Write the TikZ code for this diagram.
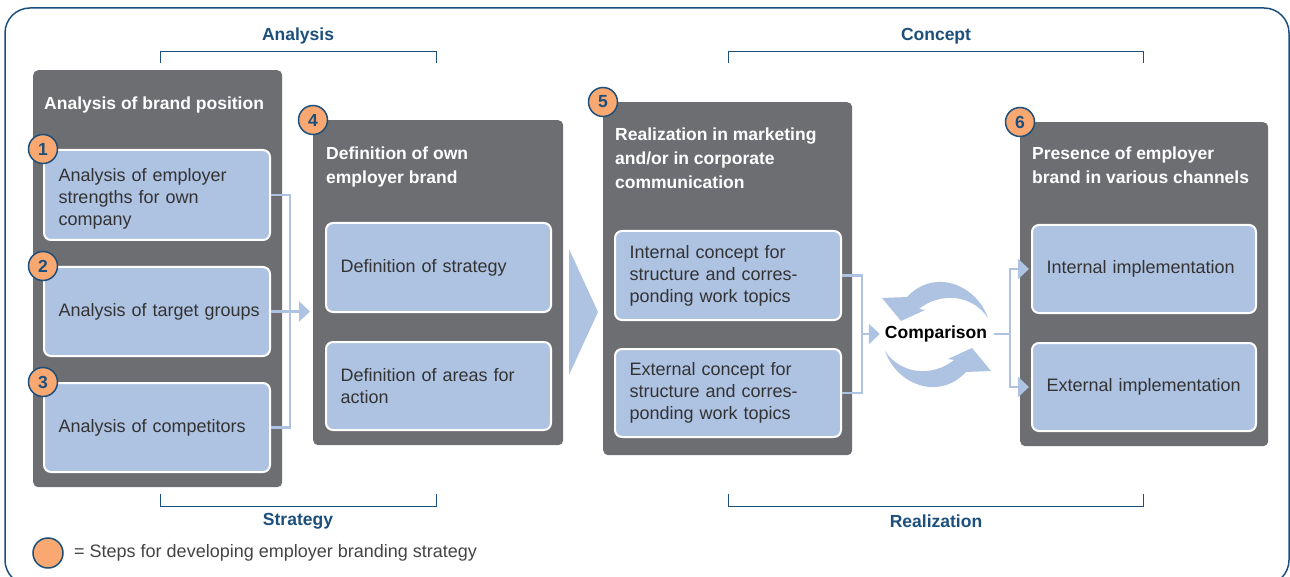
\documentclass[tikz,border=0pt]{standalone}
\usepackage{fontspec}
\setmainfont{Liberation Sans}
\usetikzlibrary{arrows.meta}

\definecolor{boxgray}{RGB}{109,110,114}
\definecolor{paleblue}{RGB}{174,194,226}
\definecolor{badgeorange}{RGB}{248,168,112}
\definecolor{navy}{RGB}{28,79,124}
\definecolor{bodytext}{RGB}{51,51,51}
\definecolor{legendtext}{RGB}{68,68,68}

\tikzset{
  panel/.style={fill=boxgray, rounded corners=5pt, anchor=north west, inner sep=0pt},
  paneltitle/.style={anchor=north west, inner sep=0pt, align=left, text=white,
    font=\bfseries\fontsize{17.5}{24}\selectfont},
  card/.style={draw=white, line width=2pt, fill=paleblue, rounded corners=7pt,
    inner xsep=14.5pt, inner ysep=0pt, align=left, text=bodytext,
    font=\fontsize{18}{22}\selectfont},
  badge/.style={circle, draw=navy, line width=1.5pt, fill=badgeorange,
    minimum size=29pt, inner sep=0pt, text=navy, font=\bfseries\fontsize{17.5}{17.5}\selectfont},
  link/.style={draw=paleblue, line width=2.5pt},
  linkarrow/.style={link, -{Triangle[length=11pt, width=20pt]}},
  bracket/.style={draw=navy, line width=1.5pt},
  phase/.style={text=navy, font=\bfseries\fontsize{17.5}{20}\selectfont, inner sep=0pt},
  cyclearrow/.style={fill=paleblue},
}

\begin{document}
\begin{tikzpicture}[x=1pt, y=-1pt]
  \useasboundingbox (0,0) rectangle (1290,577);
  \clip (0,0) rectangle (1290,577);

  % outer frame
  \draw[navy, line width=1.5pt, rounded corners=25pt] (5,8) rectangle (1289,585);

  % phase brackets
  \draw[bracket] (160.5,63) -- (160.5,51.5) -- (436.5,51.5) -- (436.5,63);
  \node[phase] (lanalysis) at (298,36) {Analysis};
  \draw[bracket] (728.5,63) -- (728.5,51.5) -- (1143.5,51.5) -- (1143.5,63);
  \node[phase] (lconcept) at (936,36) {Concept};
  \draw[bracket] (160.5,494) -- (160.5,506.5) -- (436.5,506.5) -- (436.5,494);
  \node[phase] (lstrategy) at (298,521) {Strategy};
  \draw[bracket] (728.5,494) -- (728.5,506.5) -- (1143.5,506.5) -- (1143.5,494);
  \node[phase] (lrealization) at (936,521) {Realization};

  % dark panels
  \node[panel, minimum width=249pt, minimum height=417pt] (pA) at (33,70) {};
  \node[panel, minimum width=250pt, minimum height=325pt] (pB) at (313,120) {};
  \node[panel, minimum width=249pt, minimum height=353pt] (pC) at (603,102) {};
  \node[panel, minimum width=248pt, minimum height=324pt] (pD) at (1020,122) {};

  % panel titles
  \node[paneltitle] (tA) at (44,97) {Analysis of brand position};
  \node[paneltitle] (tB) at (326,147) {Definition of own\\employer brand};
  \node[paneltitle] (tC) at (615,127.5) {Realization in marketing\\and/or in corporate\\communication};
  \node[paneltitle] (tD) at (1032,147) {Presence of employer\\brand in various channels};

  % cards
  \node[card, text width=197pt, minimum height=90pt] (a1) at (157,195)
    {\rule{0pt}{21pt}Analysis of employer\\strengths for own\\company};
  \node[card, text width=197pt, minimum height=89pt] (a2) at (157,311.5)
    {\mbox{Analysis of target groups}};
  \node[card, text width=197pt, minimum height=89pt] (a3) at (157,427.5)
    {Analysis of competitors};
  \node[card, text width=196pt, minimum height=89pt] (b1) at (438.5,267.5)
    {Definition of strategy};
  \node[card, text width=196pt, minimum height=88pt] (b2) at (438.5,386)
    {Definition of areas for\\action};
  \node[card, text width=197pt, minimum height=89pt] (c1) at (728,275.5)
    {Internal concept for\\structure and corres-\\ponding work topics};
  \node[card, text width=197pt, minimum height=88pt] (c2) at (728,393)
    {External concept for\\structure and corres-\\ponding work topics};
  \node[card, text width=195pt, minimum height=88pt] (d1) at (1144,269)
    {\mbox{Internal implementation}};
  \node[card, text width=195pt, minimum height=88pt] (d2) at (1144,387)
    {\mbox{External implementation}};

  % step badges
  \node[badge] (s1) at (a1.north west) {1};
  \node[badge] (s2) at (a2.north west) {2};
  \node[badge] (s3) at (a3.north west) {3};
  \node[badge] (s4) at (pB.north west) {4};
  \node[badge] (s5) at (pC.north west) {5};
  \node[badge] (s6) at (pD.north west) {6};

  % analysis results feed the definition
  \coordinate (jA) at (290,311.5);
  \draw[link] (a1.east) -| (jA) |- (a3.east);
  \draw[linkarrow, shorten >=3pt] (a2.east) -- (a2.east -| pB.west);

  % chevron between definition and realization
  \fill[paleblue] (569,249) -- (598,312) -- (569,375) -- cycle;

  % comparison
  \node[inner sep=2pt, font=\bfseries\fontsize{17.5}{20}\selectfont] (cmp) at (936,334) {Comparison};
  \coordinate (jC) at (862,334);
  \draw[link] (c1.east) -| (jC) |- (c2.east);
  \draw[linkarrow, shorten >=3pt] (jC) -- (cmp.west);

  % circular arrows around the comparison
  \fill[cyclearrow] (988,318) .. controls (976,284) and (934,268) .. (907,297)
    -- (882,298) -- (901,321) -- (925,310) -- (919,309)
    .. controls (940,292) and (972,294) .. (988,318) -- cycle;
  \fill[cyclearrow, rotate around={180:(936.5,334.5)}] (988,318) .. controls (976,284) and (934,268) .. (907,297)
    -- (882,298) -- (901,321) -- (925,310) -- (919,309)
    .. controls (940,292) and (972,294) .. (988,318) -- cycle;

  % comparison feeds both implementations
  \coordinate (jD) at (1010,334);
  \draw[link, shorten <=5pt] (cmp.east) -- (jD);
  \draw[linkarrow, shorten >=2pt] (jD) |- (d1.west);
  \draw[linkarrow, shorten >=2pt] (jD) |- (d2.west);

  % legend
  \node[circle, draw=navy, line width=1.5pt, fill=badgeorange, minimum size=30pt, inner sep=0pt] (legcircle) at (48,553) {};
  \node[anchor=west, inner sep=0pt, text=legendtext, font=\fontsize{18}{22}\selectfont] (legtext) at (74,553)
    {= Steps for developing employer branding strategy};
\end{tikzpicture}
\end{document}
